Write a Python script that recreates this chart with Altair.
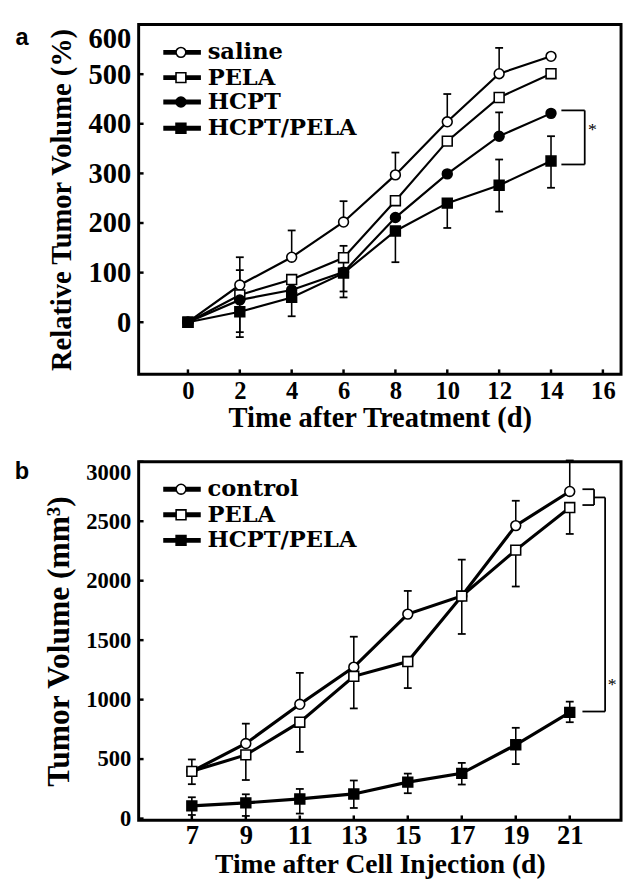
import altair as alt
import pandas as pd

SERIF = "Liberation Serif"
LEG_FONT = "DejaVu Serif"
SANS = "Liberation Sans"

# ---------------- Panel a ----------------
days_a = [0, 2, 4, 6, 8, 10, 12, 14]
series_a = ["saline", "PELA", "HCPT", "HCPT/PELA"]
vol_saline = [0, 75, 131, 202, 297, 404, 501, 536]
vol_pela_a = [0, 55, 86, 130, 245, 365, 453, 501]
vol_hcpt = [0, 45, 65, 101, 211, 299, 375, 421]
vol_hcpt_pela_a = [0, 21, 50, 99, 184, 240, 276, 325]
up_saline = [0, 56, 54, 42, 45, 56, 52, 0]
lo_saline = [0, 0, 0, 0, 0, 0, 0, 0]
up_pela_a = [0, 0, 0, 0, 0, 0, 0, 0]
lo_pela_a = [0, 75, 0, 0, 0, 0, 0, 0]
up_hcpt = [0, 60, 0, 53, 0, 0, 48, 0]
lo_hcpt = [0, 0, 0, 51, 0, 0, 0, 0]
up_hcpt_pela_a = [0, 0, 0, 0, 0, 0, 52, 50]
lo_hcpt_pela_a = [0, 51, 38, 37, 63, 50, 53, 54]
xticks_a = [0, 2, 4, 6, 8, 10, 12, 14, 16]
yticks_a = [0, 100, 200, 300, 400, 500, 600]

# ---------------- Panel b ----------------
days_b = [7, 9, 11, 13, 15, 17, 19, 21]
series_b = ["control", "PELA", "HCPT/PELA"]
vol_control = [397, 631, 961, 1273, 1719, 1871, 2463, 2750]
vol_pela_b = [397, 535, 810, 1196, 1320, 1871, 2257, 2615]
vol_hcpt_pela_b = [107, 132, 165, 207, 306, 380, 620, 893]
up_control = [100, 167, 264, 256, 195, 306, 209, 261]
lo_control = [0, 0, 0, 0, 0, 0, 0, 0]
up_pela_b = [0, 0, 0, 0, 0, 0, 0, 0]
lo_pela_b = [108, 211, 250, 270, 223, 319, 306, 222]
up_hcpt_pela_b = [72, 72, 84, 113, 72, 88, 143, 90]
lo_hcpt_pela_b = [77, 110, 123, 118, 93, 94, 162, 83]
xticks_b = [7, 9, 11, 13, 15, 17, 19, 21]
yticks_b = [0, 500, 1000, 1500, 2000, 2500, 3000]


def build_panel(days, names, vols, ups, los, shapes, fills, xdom, ydom,
                xticks, yticks, xtitle, ytitle, xlab_size, ylab_size,
                xtitle_size, ytitle_size, xlab_pad, xtitle_pad, ytitle_pad, line_w,
                leg_x, leg_y, leg_size, brackets, star, letter,
                width, height):
    rows, cap_rows = [], []
    for name, v, u, l in zip(names, vols, ups, los):
        for d, vv, uu, ll in zip(days, v, u, l):
            rows.append({"x": d, "y": vv, "series": name,
                         "lo": vv - ll, "hi": vv + uu})
            if uu > 0:
                cap_rows.append({"x": d, "y": vv + uu})
            if ll > 0:
                cap_rows.append({"x": d, "y": vv - ll})
    df = pd.DataFrame(rows)
    caps = pd.DataFrame(cap_rows)
    err = df[df["hi"] > df["lo"]]

    xs = alt.Scale(domain=xdom, nice=False, zero=False)
    ys = alt.Scale(domain=ydom, nice=False, zero=False)
    xa = alt.Axis(values=xticks, title=xtitle, labelFontSize=xlab_size,
                  titleFontSize=xtitle_size, labelPadding=xlab_pad,
                  titlePadding=xtitle_pad, format="d")
    ya = alt.Axis(values=yticks, title=ytitle, labelFontSize=ylab_size,
                  titleFontSize=ytitle_size, labelPadding=8,
                  titlePadding=ytitle_pad, labelFlush=True, format="d")
    shape_enc = alt.Shape("series:N", scale=alt.Scale(domain=names, range=shapes), legend=None)
    fill_enc = alt.Fill("series:N", scale=alt.Scale(domain=names, range=fills), legend=None)

    def X(f):
        return alt.X(f, type="quantitative", scale=xs, axis=xa)

    def Y(f):
        return alt.Y(f, type="quantitative", scale=ys, axis=ya)

    lines = alt.Chart(df).mark_line(color="black", strokeWidth=line_w).encode(
        x=X("x"), y=Y("y"), detail="series:N", order="x:Q")
    bars = alt.Chart(err).mark_rule(color="black", strokeWidth=1.6).encode(
        x=X("x"), y=Y("lo"), y2="hi")
    capm = alt.Chart(caps).mark_tick(orient="horizontal", size=8, thickness=1.8,
                                    color="black", opacity=1).encode(x=X("x"), y=Y("y"))
    pts = alt.Chart(df).mark_point(filled=True, stroke="black", strokeWidth=1.6,
                                   size=100, opacity=1).encode(
        x=X("x"), y=Y("y"), shape=shape_enc, fill=fill_enc)

    # inward axis ticks
    tick_len_x = (ydom[1] - ydom[0]) * 5 / height
    tick_len_y = (xdom[1] - xdom[0]) * 5 / width
    tx = pd.DataFrame({"x": xticks, "y": [ydom[0]] * len(xticks),
                       "y2": [ydom[0] + tick_len_x] * len(xticks)})
    ty = pd.DataFrame({"y": yticks, "x": [xdom[0]] * len(yticks),
                       "x2": [xdom[0] + tick_len_y] * len(yticks)})
    tickx = alt.Chart(tx).mark_rule(color="black", strokeWidth=2.5).encode(
        x=X("x"), y=Y("y"), y2="y2")
    ticky = alt.Chart(ty).mark_rule(color="black", strokeWidth=2.5).encode(
        x=X("x"), x2="x2", y=Y("y"))

    # legend
    leg = pd.DataFrame({"series": names, "y": leg_y,
                        "x0": [leg_x[0]] * len(names), "x1": [leg_x[1]] * len(names),
                        "xm": [leg_x[2]] * len(names), "xt": [leg_x[3]] * len(names)})
    leg_lines = alt.Chart(leg).mark_rule(color="black", strokeWidth=5).encode(
        x=X("x0"), x2="x1", y=Y("y"))
    leg_pts = alt.Chart(leg).mark_point(filled=True, stroke="black", strokeWidth=1.6,
                                        size=100, opacity=1).encode(
        x=X("xm"), y=Y("y"), shape=shape_enc, fill=fill_enc)
    leg_txt = alt.Chart(leg).mark_text(align="left", baseline="middle", font=LEG_FONT,
                                       fontWeight="bold", fontSize=leg_size,
                                       color="black").encode(
        x=X("xt"), y=Y("y"), text="series:N")

    br = pd.DataFrame(brackets, columns=["x", "y", "x2", "y2"])
    brm = alt.Chart(br).mark_rule(color="black", strokeWidth=1.8).encode(
        x=X("x"), y=Y("y"), x2="x2", y2="y2")
    st = pd.DataFrame([{"x": star[0], "y": star[1], "t": "*"}])
    stm = alt.Chart(st).mark_text(font=SERIF, fontSize=18, color="black",
                                  baseline="middle").encode(x=X("x"), y=Y("y"), text="t")
    lt = pd.DataFrame([{"x": letter[1], "y": letter[2], "t": letter[0]}])
    ltm = alt.Chart(lt).mark_text(font=SANS, fontWeight="bold", fontSize=24,
                                  color="black", baseline="middle").encode(
        x=X("x"), y=Y("y"), text="t")

    return alt.layer(lines, bars, capm, pts, tickx, ticky, leg_lines, leg_pts,
                     leg_txt, brm, stm, ltm).properties(width=width, height=height)


panel_a = build_panel(
    days_a, series_a,
    [vol_saline, vol_pela_a, vol_hcpt, vol_hcpt_pela_a],
    [up_saline, up_pela_a, up_hcpt, up_hcpt_pela_a],
    [lo_saline, lo_pela_a, lo_hcpt, lo_hcpt_pela_a],
    ["circle", "square", "circle", "square"], ["white", "white", "black", "black"],
    [-1.9, 16.7], [-105, 600], xticks_a, yticks_a,
    "Time after Treatment (d)", "Relative Tumor Volume (%)",
    25, 29, 29, 29, 5, 0, 12, 2.2,
    [-0.95, 0.50, -0.27, 0.76], [544, 493, 444, 391], 23,
    [[14.4, 427, 15.3, 427], [15.3, 427, 15.3, 318], [14.4, 318, 15.3, 318]],
    (15.6, 387), ("a", -6.4, 573), 491, 356)

panel_b = build_panel(
    days_b, series_b,
    [vol_control, vol_pela_b, vol_hcpt_pela_b],
    [up_control, up_pela_b, up_hcpt_pela_b],
    [lo_control, lo_pela_b, lo_hcpt_pela_b],
    ["circle", "square", "square"], ["white", "white", "black"],
    [5.03, 22.9], [-15, 3000], xticks_b, yticks_b,
    "Time after Cell Injection  (d)", "Tumor Volume (mm³)",
    27, 23, 28, 32, 3, 2, 10, 3.2,
    [5.94, 7.33, 6.6, 7.58], [2769, 2554, 2339], 23,
    [[21.47, 2769, 21.9, 2769], [21.9, 2769, 21.9, 2636], [21.47, 2636, 21.9, 2636],
     [21.9, 2700, 22.31, 2700], [22.31, 2700, 22.31, 900], [21.47, 900, 22.31, 900]],
    (22.57, 1124), ("b", 0.71, 2917), 491, 365)

chart = alt.vconcat(panel_a, panel_b, spacing=24).properties(
    padding={"left": 5, "top": 6, "right": 0, "bottom": 0}
).configure_view(stroke="black", strokeWidth=3).configure_axis(
    domain=False, grid=False, ticks=False, labelFont=SERIF, titleFont=SERIF,
    labelColor="black", titleColor="black", labelFontWeight="bold",
    titleFontWeight="bold")

chart.save("out.html", embed_options={"renderer": "svg", "actions": False})
